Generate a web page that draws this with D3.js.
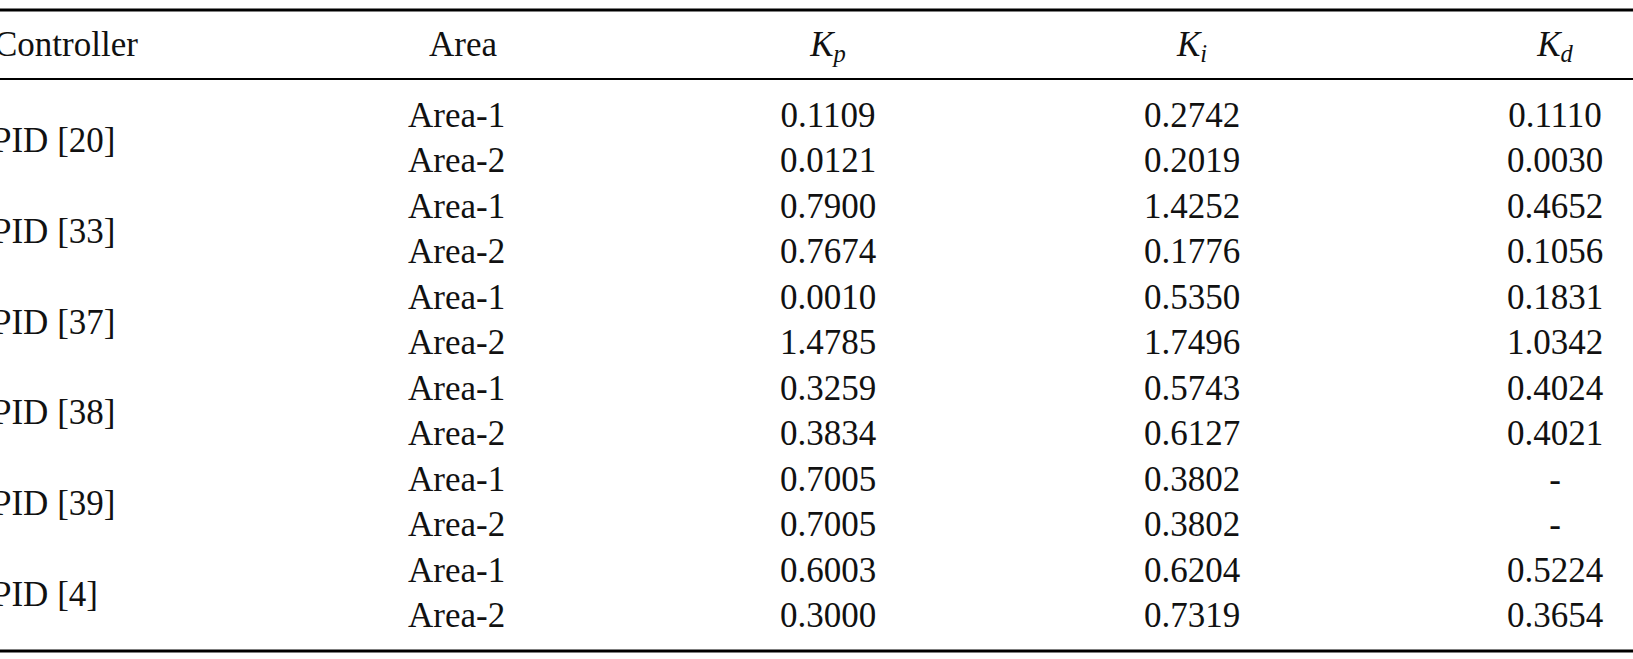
<!DOCTYPE html>
<html><head><meta charset="utf-8">
<script src="https://cdn.jsdelivr.net/npm/d3@7"></script>
<style>body{margin:0;background:#fff}text{font-family:"Liberation Serif",serif;fill:#111}</style>
</head><body><div id="tbl"></div>
<script>
const width = 1633, height = 659;

// table data
const controllers = ["PID [20]", "PID [33]", "PID [37]", "PID [38]", "PID [39]", "PID [4]"];
const areas = ["Area-1", "Area-2"];
const kp = ["0.1109","0.0121","0.7900","0.7674","0.0010","1.4785","0.3259","0.3834","0.7005","0.7005","0.6003","0.3000"];
const ki = ["0.2742","0.2019","1.4252","0.1776","0.5350","1.7496","0.5743","0.6127","0.3802","0.3802","0.6204","0.7319"];
const kd = ["0.1110","0.0030","0.4652","0.1056","0.1831","1.0342","0.4024","0.4021","-","-","0.5224","0.3654"];

const svg = d3.select("#tbl").append("svg").attr("width", width).attr("height", height);

const y = d3.scaleLinear().domain([0, 11]).range([127, 627]);
const fs = 35;

// rules
svg.append("line").attr("x1", 0).attr("x2", width).attr("y1", 10).attr("y2", 10).attr("stroke", "#000").attr("stroke-width", 3);
svg.append("line").attr("x1", 0).attr("x2", width).attr("y1", 79).attr("y2", 79).attr("stroke", "#000").attr("stroke-width", 2.2);
svg.append("line").attr("x1", 0).attr("x2", width).attr("y1", 651).attr("y2", 651).attr("stroke", "#000").attr("stroke-width", 3);

// header
const hy = 56;
svg.append("text").attr("x", -6).attr("y", hy).attr("font-size", fs).text("Controller");
svg.append("text").attr("x", 463).attr("y", hy).attr("font-size", fs).attr("text-anchor", "middle").text("Area");
[["p", 828], ["i", 1192], ["d", 1555]].forEach(([s, x]) => {
  const t = svg.append("text").attr("x", x).attr("y", hy).attr("font-size", fs).attr("text-anchor", "middle").attr("font-style", "italic");
  t.append("tspan").text("K");
  t.append("tspan").attr("font-size", fs * 0.7).attr("dy", 6).text(s);
});

// controllers
controllers.forEach((c, i) => {
  svg.append("text").attr("x", -8).attr("y", (y(2 * i) + y(2 * i + 1)) / 2 + 2).attr("font-size", fs).text(c);
});

// rows
d3.range(12).forEach(r => {
  svg.append("text").attr("x", 408).attr("y", y(r)).attr("font-size", fs).text(areas[r % 2]);
  [[kp, 828], [ki, 1192], [kd, 1555]].forEach(([arr, x]) => {
    svg.append("text").attr("x", x).attr("y", y(r)).attr("font-size", fs).attr("text-anchor", "middle").text(arr[r]);
  });
});
</script></body></html>
